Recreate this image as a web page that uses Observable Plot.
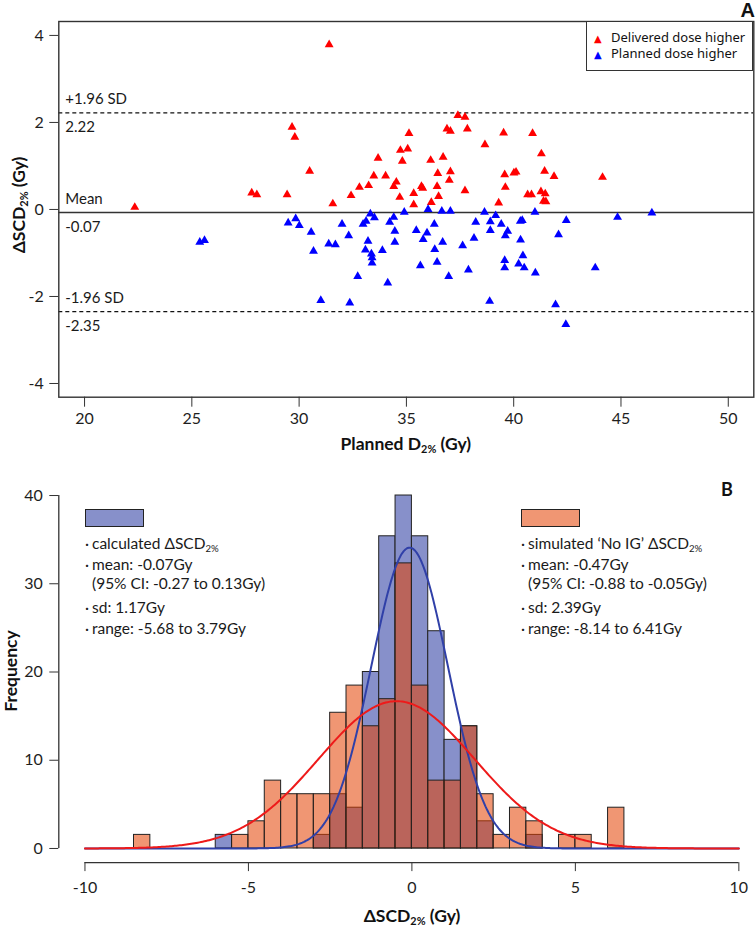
<!DOCTYPE html>
<html><head><meta charset="utf-8">
<script src="https://cdn.jsdelivr.net/npm/d3@7"></script>
<script src="https://cdn.jsdelivr.net/npm/@observablehq/plot@0.6"></script>
<style>
html,body{margin:0;padding:0;background:#fff;}
#wrap{position:relative;width:756px;height:928px;overflow:hidden;font-family:Lato,sans-serif;color:#1a1a1a;}
.abs{position:absolute;white-space:nowrap;}
sub{font-size:62%;vertical-align:-0.3em;line-height:0;}
.lbl{font-weight:bold;font-size:17.5px;color:#111;}
.leg{font-size:15.5px;line-height:20px;color:#1a1a1a;}
.legA{font-family:"Noto Sans",sans-serif;font-size:13px;line-height:15px;color:#111;}
.tri{font-family:"DejaVu Sans",sans-serif;font-size:10px;display:inline-block;width:17px;}
</style></head><body>
<div id="wrap">
  <div id="panelA" class="abs" style="left:0;top:0"></div>
  <div id="panelB" class="abs" style="left:0;top:460px"></div>
</div>
<script>
// ---------- Panel A data ----------
const deliveredX = [31.40,29.67,29.80,30.49,27.79,28.03,29.44,31.57,32.42,32.81,33.24,33.48,33.68,22.34,
  37.40,37.73,36.89,37.05,37.84,35.12,39.53,40.88,38.66,34.72,35.06,34.81,36.13,36.71,41.29,34.03,
  36.46,37.05,37.00,39.58,40.01,40.11,41.44,41.88,44.14,34.53,34.41,35.70,35.76,36.43,39.61,35.34,
  34.69,36.50,37.73,40.65,40.83,41.27,41.47,41.39,41.50,35.34,36.16,39.30];
const deliveredY = [3.79,1.89,1.66,0.88,0.38,0.34,0.34,0.13,0.32,0.51,0.55,0.77,1.18,0.05,
  2.16,2.12,1.85,1.80,1.85,1.75,1.76,1.75,1.49,1.36,1.39,1.11,1.13,1.20,1.28,0.77,
  0.83,0.87,0.67,0.80,0.84,0.86,0.88,0.76,0.74,0.63,0.53,0.53,0.49,0.53,0.51,0.37,
  0.28,0.30,0.43,0.34,0.34,0.41,0.36,0.19,0.18,0.11,0.16,0.15];
const plannedX = [25.37,25.59,29.49,29.84,30.01,30.56,30.67,31.38,31.69,32.00,32.31,31.01,32.36,32.73,
  32.98,33.12,33.21,33.09,33.32,33.51,33.37,33.40,33.40,33.88,34.13,34.22,34.41,34.46,34.46,34.90,
  35.46,35.65,35.78,35.96,36.01,36.30,36.32,36.43,36.65,36.69,36.97,37.05,37.62,37.89,38.15,38.23,
  38.64,38.88,38.91,38.91,39.16,39.42,39.58,39.58,39.61,39.72,40.23,40.31,40.40,40.32,40.43,40.49,
  40.99,41.01,41.95,42.09,42.43,42.45,43.80,44.84,46.44];
const plannedY = [-0.75,-0.71,-0.31,-0.21,-0.37,-0.52,-0.96,-0.79,-0.81,-0.34,-0.60,-2.09,-2.15,-1.54,
  -0.34,-0.27,-0.73,-0.93,-0.10,-0.19,-1.02,-1.11,-1.23,-0.94,-1.69,-0.29,-0.18,-0.50,-0.75,-0.06,
  -0.48,-1.29,-0.69,-0.54,0.00,-0.34,-0.92,-1.21,-0.04,-0.75,-1.54,-0.04,-0.83,-1.39,-0.66,-0.29,
  -0.06,-2.11,-0.28,-0.48,-0.14,-0.34,-1.17,-1.34,-0.60,-0.50,-1.25,-0.27,-0.25,-0.70,-1.06,-1.34,
  -0.06,-1.46,-2.19,-0.58,-2.64,-0.25,-1.34,-0.18,-0.08];
const groupsA = ["Delivered dose higher","Planned dose higher"];
const limitValues = [2.22, -0.07, -2.35];
const limitNames = ["+1.96 SD","Mean","-1.96 SD"];
const limitLabels = ["2.22","-0.07","-2.35"];
const xTicksA = [20,25,30,35,40,45,50];
const yTicksA = [-4,-2,0,2,4];

// ---------- Panel B data ----------
const binLeft  = [-8.5,-6.0,-5.5,-5.0,-4.5,-4.0,-3.5,-3.0,-2.5,-2.0,-1.5,-1.0,-0.5,0.0,0.5,1.0,1.5,2.0,2.5,3.0,3.5,4.5,5.0,6.0];
const calcFreq = [0,1.54,0,0,0,0,0,1.54,6.15,4.62,20.00,35.38,40.00,35.38,24.62,12.31,13.85,3.08,0,0,1.54,0,0,0];
const simFreq  = [1.54,0,1.54,3.08,7.69,6.15,6.15,6.15,15.38,18.46,13.85,16.92,32.31,18.46,7.69,7.69,13.85,6.15,1.54,4.62,3.08,1.54,1.54,4.62];
const binWidth = 0.5;
const calcMean = -0.07, calcSd = 1.17;
const simMean = -0.47, simSd = 2.39;
const curveArea = 100;
const xTicksB = [-10,-5,0,5,10];
const yTicksB = [0,10,20,30,40];
const calcLegend = ["calculated ΔSCD<sub>2%</sub>","mean: -0.07Gy","(95% CI: -0.27 to 0.13Gy)","sd: 1.17Gy","range: -5.68 to 3.79Gy"];
const simLegend  = ["simulated ‘No IG’ ΔSCD<sub>2%</sub>","mean: -0.47Gy","(95% CI: -0.88 to -0.05Gy)","sd: 2.39Gy","range: -8.14 to 6.41Gy"];

// ---------- build ----------
const fmt = d => String(d);
const pointsA = [
  ...deliveredX.map((x,i)=>({x, y:deliveredY[i], g:groupsA[0]})),
  ...plannedX.map((x,i)=>({x, y:plannedY[i], g:groupsA[1]}))
];
const limits = limitValues.map((v,i)=>({v, name:limitNames[i], label:limitLabels[i], mean:i===1}));

const plotA = Plot.plot({
  width:756, height:460, marginLeft:58.3, marginRight:2.7, marginTop:21, marginBottom:63.3,
  style:{fontFamily:"Lato, sans-serif", fontSize:"15px", color:"#1e1e1e", background:"transparent"},
  x:{domain:[18.8,51.19]},
  y:{domain:[-4.315,4.32]},
  color:{domain:groupsA, range:["#ff0000","#0000ff"]},
  marks:[
    Plot.axisX({ticks:xTicksA, tickSize:10, tickPadding:5, label:null, tickFormat:fmt, fontSize:16, stroke:"#333"}),
    Plot.axisY({ticks:yTicksA, tickSize:9, tickPadding:6, label:null, tickFormat:fmt, fontSize:16, stroke:"#333"}),
    Plot.ruleY(limits.filter(d=>!d.mean), {y:"v", stroke:"#111", strokeWidth:1.2, strokeDasharray:"4,3"}),
    Plot.ruleY(limits.filter(d=>d.mean), {y:"v", stroke:"#333", strokeWidth:1.3}),
    Plot.text(limits, {y:"v", text:"name", frameAnchor:"left", textAnchor:"start", dx:6.5, dy:-13.5, fill:"#1a1a1a"}),
    Plot.text(limits, {y:"v", text:"label", frameAnchor:"left", textAnchor:"start", dx:6.5, dy:14.5, fill:"#1a1a1a"}),
    Plot.dot(pointsA, {x:"x", y:"y", fill:"g", symbol:"triangle", r:3.3}),
    Plot.frame({stroke:"#333", strokeWidth:1.4})
  ]
});
document.getElementById("panelA").appendChild(plotA);

const binsCalc = binLeft.map((x,i)=>({x1:x, x2:x+binWidth, b:0, f:calcFreq[i]})).filter(d=>d.f>0);
const binsSim  = binLeft.map((x,i)=>({x1:x, x2:x+binWidth, b:0, f:simFreq[i]})).filter(d=>d.f>0);
const pdf = (x,m,s) => Math.exp(-0.5*((x-m)/s)**2)/(s*Math.sqrt(2*Math.PI));
const grid = d3.range(xTicksB[0], xTicksB[xTicksB.length-1]+1e-9, 0.05);
const curveCalc = grid.map(x=>({x, y:curveArea*pdf(x,calcMean,calcSd)}));
const curveSim  = grid.map(x=>({x, y:curveArea*pdf(x,simMean,simSd)}));
const xDomB = [-10.8, 10.54], yDomB = [-1.6, 41.6];

const plotB = Plot.plot({
  width:756, height:468, marginLeft:58.3, marginRight:0, marginTop:20.9, marginBottom:65.9,
  style:{fontFamily:"Lato, sans-serif", fontSize:"16px", color:"#1e1e1e", background:"transparent"},
  x:{domain:xDomB},
  y:{domain:yDomB},
  marks:[
    Plot.axisX({ticks:xTicksB, tickSize:9, tickPadding:10, label:null, tickFormat:fmt, stroke:"#333"}),
    Plot.axisY({ticks:yTicksB, tickSize:9, tickPadding:7, label:null, tickFormat:fmt, stroke:"#333"}),
    Plot.ruleX([{x:xDomB[0], y1:d3.min(yTicksB), y2:d3.max(yTicksB)}], {x:"x", y1:"y1", y2:"y2", stroke:"#333", strokeWidth:1.3}),
    Plot.ruleY([{y:yDomB[0], x1:d3.min(xTicksB), x2:d3.max(xTicksB)}], {y:"y", x1:"x1", x2:"x2", stroke:"#333", strokeWidth:1.3}),
    Plot.rect(binsCalc, {x1:"x1", x2:"x2", y1:"b", y2:"f", fill:"#8790ca", stroke:"#222", strokeWidth:1}),
    Plot.rect(binsSim, {x1:"x1", x2:"x2", y1:"b", y2:"f", fill:"rgb(228,64,0)", fillOpacity:0.55, stroke:"#222", strokeWidth:1}),
    Plot.line(curveCalc, {x:"x", y:"y", stroke:"#3040a8", strokeWidth:2}),
    Plot.line(curveSim, {x:"x", y:"y", stroke:"#ee1a1a", strokeWidth:2})
  ]
});
document.getElementById("panelB").appendChild(plotB);

// ---------- text overlays ----------
const wrap = document.getElementById("wrap");
function add(html, css, cls){
  const d = document.createElement("div");
  d.className = "abs " + (cls||"");
  d.innerHTML = html;
  d.style.cssText += css;
  wrap.appendChild(d);
  return d;
}
// panel letters
add("A", "right:1px;top:-1px;font-family:'Liberation Sans',Arial,sans-serif;font-weight:bold;font-size:20px;color:#111;");
add("B", "left:721px;top:478px;font-family:Lato,sans-serif;font-weight:bold;font-size:18px;color:#111;");
// axis labels
add("Planned D<sub>2%</sub> (Gy)", "left:405.8px;top:443px;transform:translate(-50%,-50%);", "lbl");
add("ΔSCD<sub>2%</sub> (Gy)", "left:18px;top:205px;transform:translate(-50%,-50%) rotate(-90deg);", "lbl");
add("Frequency", "left:10px;top:671px;transform:translate(-50%,-50%) rotate(-90deg);", "lbl");
add("ΔSCD<sub>2%</sub> (Gy)", "left:412px;top:915px;transform:translate(-50%,-50%);", "lbl");
// legend A
add("", "left:586px;top:21px;width:167.3px;height:50px;border:1px solid #333;box-sizing:border-box;background:#fff;");
const colorsA = ["#ff0000","#0000ff"];
groupsA.forEach((g,i)=>{
  add(`<span class="tri" style="color:${colorsA[i]}">▲</span>${g}`, `left:594px;top:${29.5+16.5*i}px;`, "legA");
});
// legend B
add("", "left:85px;top:509px;width:59px;height:18px;border:1px solid #222;box-sizing:border-box;background:#8790ca;");
add("", "left:521px;top:509px;width:59px;height:18px;border:1px solid #222;box-sizing:border-box;background:rgba(228,64,0,0.55);");
const lineY = [542.7,564.3,583.3,606.7,628.3];
calcLegend.forEach((t,i)=>{
  const bullet = i===2 ? "" : "·";
  add(`<span style="display:inline-block;width:7px">${bullet}</span>${t}`, `left:85px;top:${lineY[i]-10}px;`, "leg");
});
simLegend.forEach((t,i)=>{
  const bullet = i===2 ? "" : "·";
  add(`<span style="display:inline-block;width:7px">${bullet}</span>${t}`, `left:521px;top:${lineY[i]-10}px;`, "leg");
});
</script>
</body></html>
